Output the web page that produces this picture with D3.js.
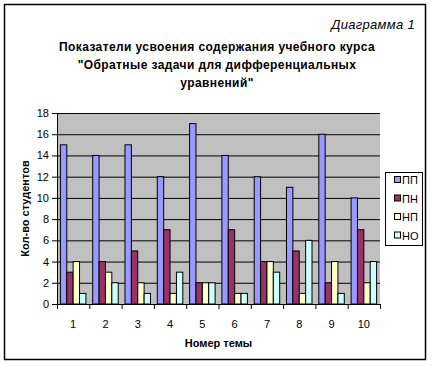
<!DOCTYPE html>
<html>
<head>
<meta charset="utf-8">
<script src="https://cdn.jsdelivr.net/npm/d3@7"></script>
<style>
  body { margin: 0; background: #fff; }
  svg text { font-family: Arial, "Liberation Sans", sans-serif; }
</style>
</head>
<body>
<div id="chart"></div>
<script>
'use strict';

// topics (Номер темы)
const topics = ['1', '2', '3', '4', '5', '6', '7', '8', '9', '10'];
const seriesNames = ['ПП', 'ПН', 'НП', 'НО'];
const seriesColors = ['#9999FF', '#993366', '#FFFFCC', '#CCFFFF'];

// students per topic for every series
const valuesPP = [15, 14, 15, 12, 17, 14, 12, 11, 16, 10];
const valuesPN = [3, 4, 5, 7, 2, 7, 4, 5, 2, 7];
const valuesNP = [4, 3, 2, 1, 2, 1, 4, 1, 4, 2];
const valuesNO = [1, 2, 1, 3, 2, 1, 3, 6, 1, 4];

const yTicks = [0, 2, 4, 6, 8, 10, 12, 14, 16, 18];

const titleLines = [
  'Показатели усвоения содержания учебного курса',
  '"Обратные задачи для дифференциальных',
  'уравнений"'
];

(function() {
  const svg = d3.select('#chart').append('svg')
    .attr('width', 432)
    .attr('height', 366);

  // outer frame
  svg.append('rect')
    .attr('x', 4.5).attr('y', 4.5)
    .attr('width', 421).attr('height', 355)
    .attr('fill', '#fff')
    .attr('stroke', '#000')
    .attr('stroke-width', 1.5);

  const plot = { left: 57, right: 380, top: 113, bottom: 304 };

  // build rows for the grouped bars
  const allValues = [valuesPP, valuesPN, valuesNP, valuesNO];
  const rows = topics.map((t, i) => ({
    topic: t,
    vals: seriesNames.map((s, j) => ({ key: s, idx: j, value: allValues[j][i] }))
  }));

  const x = d3.scaleBand()
    .domain(topics)
    .range([plot.left, plot.right])
    .paddingInner(0.21)
    .paddingOuter(0.105);

  const xInner = d3.scaleBand()
    .domain(seriesNames)
    .range([0, x.bandwidth()]);

  // category boundaries for the tick marks
  const xEdges = d3.scaleLinear()
    .domain([0, topics.length])
    .range([plot.left, plot.right]);

  const y = d3.scaleLinear()
    .domain([0, 18])
    .range([plot.bottom, plot.top]);

  // plot background
  svg.append('rect')
    .attr('x', plot.left).attr('y', plot.top)
    .attr('width', plot.right - plot.left)
    .attr('height', plot.bottom - plot.top)
    .attr('fill', '#C0C0C0');

  // gridlines
  svg.append('g')
    .attr('transform', `translate(${plot.left},0)`)
    .call(d3.axisLeft(y).tickValues(yTicks.slice(1)).tickSize(-(plot.right - plot.left)).tickFormat(''))
    .call(g => g.select('.domain').remove())
    .call(g => g.selectAll('line').attr('stroke', '#000').attr('stroke-width', 1));

  // bars
  svg.append('g').selectAll('g')
    .data(rows)
    .enter()
    .append('g')
      .attr('transform', d => `translate(${x(d.topic)},0)`)
    .selectAll('rect')
    .data(d => d.vals)
    .enter()
    .append('rect')
      .attr('x', d => xInner(d.key))
      .attr('y', d => y(d.value))
      .attr('width', xInner.bandwidth())
      .attr('height', d => y(0) - y(d.value))
      .attr('fill', d => seriesColors[d.idx])
      .attr('stroke', '#000')
      .attr('stroke-width', 1);

  // y axis
  svg.append('g')
    .attr('transform', `translate(${plot.left},0)`)
    .call(d3.axisLeft(y).tickValues(yTicks).tickSize(5).tickPadding(3))
    .call(g => g.select('.domain').attr('stroke', '#000'))
    .call(g => g.selectAll('line').attr('stroke', '#000'))
    .call(g => g.selectAll('text').attr('font-size', '11px').attr('fill', '#000'));

  // x axis: tick marks on category edges
  svg.append('g')
    .attr('transform', `translate(0,${plot.bottom})`)
    .call(d3.axisBottom(xEdges).tickValues(d3.range(topics.length + 1)).tickSize(5).tickFormat(''))
    .call(g => g.select('.domain').attr('stroke', '#000'))
    .call(g => g.selectAll('line').attr('stroke', '#000'));

  // x axis: labels at category centres
  svg.append('g')
    .attr('transform', `translate(0,${plot.bottom})`)
    .call(d3.axisBottom(x).tickSize(0).tickPadding(16))
    .call(g => g.select('.domain').remove())
    .call(g => g.selectAll('text').attr('font-size', '11px').attr('fill', '#000'));

  // titles
  svg.append('text')
    .attr('x', 415).attr('y', 29)
    .attr('text-anchor', 'end')
    .style('font-size', '13px')
    .style('font-style', 'italic')
    .style('letter-spacing', '0.3px')
    .text('Диаграмма 1');

  svg.append('g').selectAll('text')
    .data(titleLines)
    .enter()
    .append('text')
      .attr('x', 217)
      .attr('y', (d, i) => 51 + i * 18)
      .attr('text-anchor', 'middle')
      .style('font-size', '12px')
      .style('font-weight', 'bold')
      .style('letter-spacing', '0.4px')
      .text(d => d);

  svg.append('text')
    .attr('x', (plot.left + plot.right) / 2)
    .attr('y', 347)
    .attr('text-anchor', 'middle')
    .style('font-size', '11px')
    .style('font-weight', 'bold')
    .text('Номер темы');

  svg.append('text')
    .attr('transform', `translate(29,${(plot.top + plot.bottom) / 2})rotate(-90)`)
    .attr('text-anchor', 'middle')
    .style('font-size', '11px')
    .style('font-weight', 'bold')
    .text('Кол-во студентов');

  // legend
  const legend = svg.append('g');
  legend.append('rect')
    .attr('x', 385.5).attr('y', 172.5)
    .attr('width', 37).attr('height', 73)
    .attr('fill', '#fff')
    .attr('stroke', '#000');

  const items = legend.selectAll('.legendItem')
    .data(seriesNames)
    .enter()
    .append('g')
      .attr('transform', (d, i) => `translate(394,${180 + 18.5 * i})`);

  items.append('rect')
    .attr('x', 0.5).attr('y', -3.5)
    .attr('width', 6).attr('height', 6)
    .attr('fill', (d, i) => seriesColors[i])
    .attr('stroke', '#000');

  items.append('text')
    .attr('x', 8).attr('y', 4)
    .style('font-size', '11px')
    .text(d => d);
})();
</script>
</body>
</html>
